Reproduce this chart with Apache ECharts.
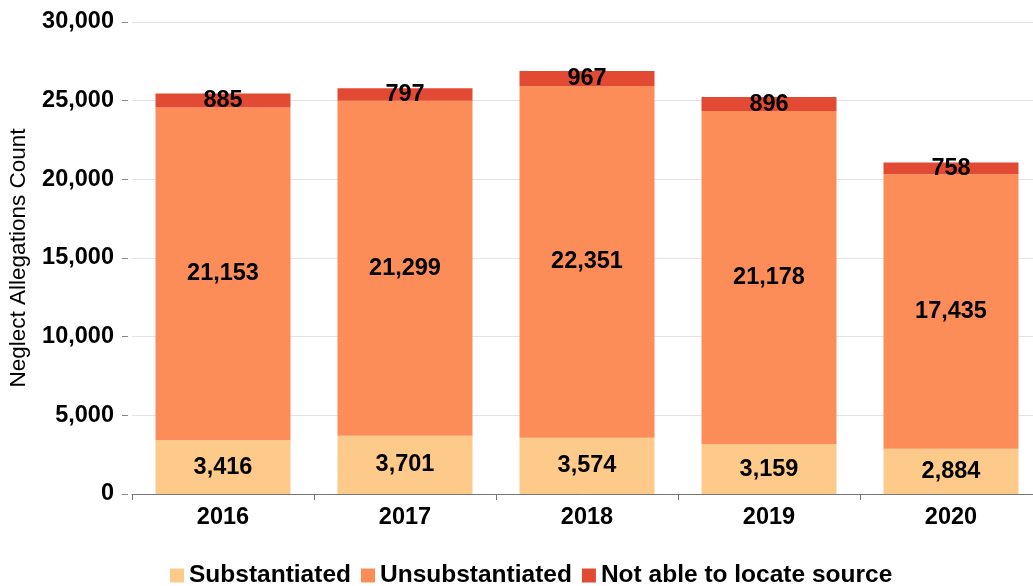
<!DOCTYPE html>
<html>
<head>
<meta charset="utf-8">
<script src="https://cdn.jsdelivr.net/npm/echarts@6/dist/echarts.min.js"></script>
<style>
  html, body { margin: 0; padding: 0; background: #fff; }
  #chrt_neglect { width: 1033px; height: 586px; }
</style>
</head>
<body>
<div id="chrt_neglect"></div>
<script>
const years = ['2016', '2017', '2018', '2019', '2020']
const substantiated = [3416, 3701, 3574, 3159, 2884]
const unsubstantiated = [21153, 21299, 22351, 21178, 17435]
const notLocated = [885, 797, 967, 896, 758]

const fmt = v => v.toLocaleString('en-US')
const lbl = {
    show: true,
    position: 'inside',
    color: '#000',
    fontSize: 23.5,
    fontWeight: 'bold',
    formatter: p => fmt(p.value)
}

const chart = echarts.init(document.getElementById('chrt_neglect'))
chart.setOption({
    animation: false,
    textStyle: { fontFamily: 'Liberation Sans, Arial, sans-serif' },
    grid: { top: 22, left: 132, right: -9, bottom: 92, outerBoundsMode: 'none', containLabel: false },
    legend: {
        top: 558,
        left: 165,
        itemWidth: 14, itemHeight: 14, itemGap: 10,
        icon: 'rect',
        textStyle: { fontSize: 24.5, fontWeight: 'bold', color: '#000' }
    },
    xAxis: {
        type: 'category',
        data: years,
        axisLine: { lineStyle: { color: '#777', width: 1 } },
        axisTick: { show: true, length: 6, lineStyle: { color: '#777' } },
        axisLabel: { fontSize: 23.5, fontWeight: 'bold', color: '#000', margin: 12 }
    },
    yAxis: {
        type: 'value',
        min: 0, max: 30000, interval: 5000,
        offset: 4,
        name: 'Neglect Allegations Count',
        nameLocation: 'middle',
        nameGap: 98,
        nameTextStyle: { fontSize: 22.5, color: '#000' },
        axisLine: { show: false },
        axisTick: { show: true, length: 6, lineStyle: { color: '#888' } },
        axisLabel: { fontSize: 23.5, fontWeight: 'bold', color: '#000', margin: 14, formatter: fmt },
        splitLine: { lineStyle: { color: '#e3e3e3', width: 1 } }
    },
    series: [
        { name: 'Substantiated', type: 'bar', stack: 'all', data: substantiated,
          barWidth: 135, itemStyle: { color: '#fdca8a' }, label: lbl },
        { name: 'Unsubstantiated', type: 'bar', stack: 'all', data: unsubstantiated,
          itemStyle: { color: '#fc8d59' }, label: lbl },
        { name: 'Not able to locate source', type: 'bar', stack: 'all', data: notLocated,
          itemStyle: { color: '#e34a33' }, label: lbl }
    ]
})
</script>
</body>
</html>
